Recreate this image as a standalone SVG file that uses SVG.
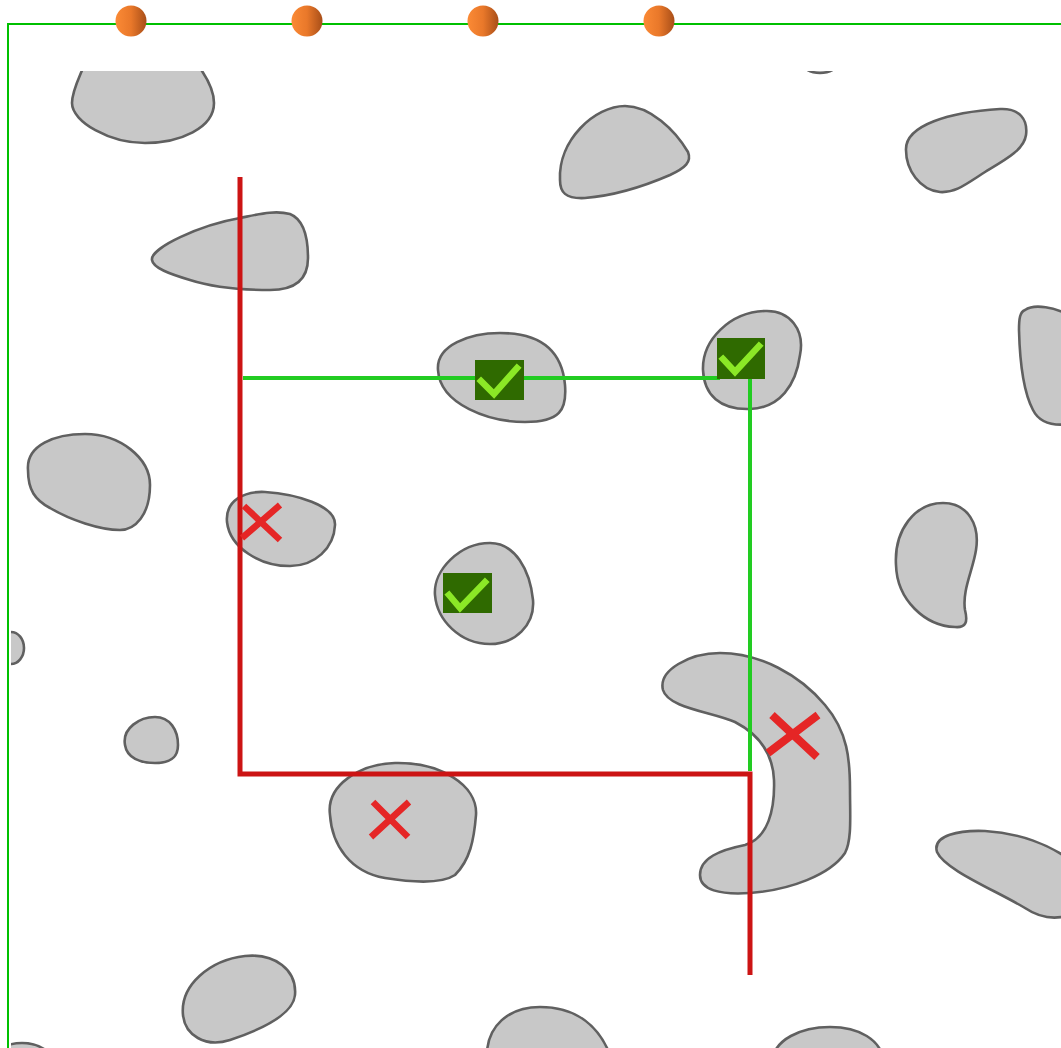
<svg xmlns="http://www.w3.org/2000/svg" width="1061" height="1048" viewBox="0 0 1061 1048">
<style>
.blob{fill:#c8c8c8;stroke:#606060;stroke-width:2.6}
.box{fill:#2f6a00}
.chk{fill:none;stroke:#8be826;stroke-width:6.5;stroke-linecap:square;stroke-linejoin:miter}
.x{stroke:#e52626;stroke-width:6.5;stroke-linecap:butt}
.red{stroke:#cc1414;stroke-width:5;fill:none}
.grn{stroke:#22cc22;stroke-width:4;fill:none}
.ball{fill:url(#ball)}
</style>
<defs>
<linearGradient id="ball" x1="0" y1="0" x2="1" y2="0">
<stop offset="0" stop-color="#fb8a35"/>
<stop offset="0.5" stop-color="#e9782a"/>
<stop offset="1" stop-color="#a84e18"/>
</linearGradient>
<clipPath id="area"><rect x="11" y="71" width="1050" height="977"/></clipPath>
</defs>
<rect width="1061" height="1048" fill="#ffffff"/>
<g id="frame">
<path d="M8,1048 V24 H1061" fill="none" stroke="#00c000" stroke-width="2"/>
</g>
<g id="balls">
<ellipse class="ball" cx="131" cy="21" rx="15.5" ry="15.5"/>
<ellipse class="ball" cx="307" cy="21" rx="15.5" ry="15.5"/>
<ellipse class="ball" cx="483" cy="21" rx="15.5" ry="15.5"/>
<ellipse class="ball" cx="659" cy="21" rx="15.5" ry="15.5"/>
</g>
<g id="blobs" clip-path="url(#area)">
<path id="b1" class="blob" d="M83,68 C78,80 72,92 72,103 C72,122 110,143 145,143 C180,143 214,128 214,103 C214,90 207,78 200,68 Z"/>
<path id="b2" class="blob" d="M152,260 C150,248 200,225 240,218 C260,214 275,210 290,214 C305,220 308,240 308,258 C308,280 295,290 270,290 C240,290 215,288 190,280 C170,274 153,268 152,260 Z"/>
<path id="b3" class="blob" d="M560,180 C558,140 595,106 625,106 C650,106 675,130 688,152 C692,162 685,168 670,175 C640,188 610,196 585,198 C565,199 560,192 560,180 Z"/>
<path id="b4" class="blob" d="M906,150 C905,125 950,112 1000,109 C1020,108 1028,120 1026,135 C1024,150 1005,160 985,172 C965,185 955,193 940,192 C920,190 906,170 906,150 Z"/>
<ellipse id="b5" class="blob" cx="820" cy="50" rx="25" ry="23"/>
<path id="b6" class="blob" d="M438,370 C436,345 470,333 500,333 C540,333 562,350 565,385 C567,410 560,422 525,422 C490,422 440,405 438,370 Z"/>
<path id="b7" class="blob" d="M703,370 C702,340 730,312 765,311 C790,310 805,330 800,355 C796,385 780,408 750,409 C720,410 704,395 703,370 Z"/>
<path id="b8" class="blob" d="M1025,310 C1035,303 1055,308 1070,315 L1070,424 C1055,426 1040,424 1033,410 C1025,395 1020,370 1019,330 C1019,318 1020,312 1025,310 Z"/>
<path id="b9" class="blob" d="M28,470 C26,445 55,434 85,434 C120,434 150,458 150,485 C150,515 135,530 120,530 C100,530 70,520 50,508 C35,500 28,490 28,470 Z"/>
<path id="b10" class="blob" d="M227,522 C225,500 245,491 265,492 C295,494 336,505 335,525 C334,548 315,566 290,566 C260,566 230,548 227,522 Z"/>
<path id="b11" class="blob" d="M435,595 C433,570 460,543 490,543 C515,543 530,570 533,600 C535,625 515,644 490,644 C460,644 437,620 435,595 Z"/>
<ellipse id="b12" class="blob" cx="11" cy="648" rx="13" ry="16"/>
<path id="b13" class="blob" d="M125,745 C122,728 140,717 155,717 C170,717 178,730 178,745 C178,758 170,763 155,763 C140,763 127,758 125,745 Z"/>
<path id="b14" class="blob" d="M330,815 C326,785 360,764 395,763 C440,762 478,785 476,815 C474,840 470,860 455,875 C440,885 410,882 385,878 C350,872 332,845 330,815 Z"/>
<path id="b15" class="blob" d="M663,690 C658,670 690,653 720,653 C760,653 800,675 825,705 C848,732 850,760 850,790 C850,815 852,840 845,853 C830,875 790,890 750,893 C720,895 700,890 700,875 C700,858 720,850 745,845 C768,838 775,810 774,780 C773,755 760,735 735,722 C712,712 668,708 663,690 Z"/>
<path id="b16" class="blob" d="M896,565 C894,530 915,503 943,503 C968,503 980,525 976,550 C973,570 962,590 965,610 C968,622 966,628 955,627 C925,626 897,600 896,565 Z"/>
<path id="b17" class="blob" d="M937,852 C932,835 960,830 985,831 C1020,833 1050,845 1070,860 L1070,915 C1055,920 1040,918 1025,908 C995,890 945,870 937,852 Z"/>
<path id="b18" class="blob" d="M183,1015 C180,985 210,960 245,956 C275,953 297,970 295,995 C293,1015 260,1030 230,1040 C205,1048 185,1035 183,1015 Z"/>
<path id="b19" class="blob" d="M487,1060 C485,1025 510,1007 540,1007 C575,1007 600,1025 612,1060 Z"/>
<path id="b20" class="blob" d="M772,1060 C775,1040 800,1027 830,1027 C860,1027 880,1040 884,1060 Z"/>
<ellipse id="b21" class="blob" cx="22" cy="1062" rx="30" ry="19"/>
</g>
<g id="connectors">
<path class="red" d="M240,177 V774 H750 V975"/>
<path class="grn" d="M243,378 H720"/>
<path class="grn" d="M750,379 V771"/>
</g>
<g id="check1">
<rect class="box" x="475" y="360" width="49" height="40"/>
<polyline class="chk" points="481,381 494,394 517,368"/>
</g>
<g id="check2">
<rect class="box" x="717" y="338" width="48" height="41"/>
<polyline class="chk" points="723,359 735,372 759,346"/>
</g>
<g id="check3">
<rect class="box" x="443" y="573" width="49" height="40"/>
<polyline class="chk" points="449,595 460,608 485,582"/>
</g>
<g id="cross1">
<path class="x" d="M244,506 L280,540 M280,505 L242,538"/>
</g>
<g id="cross2">
<path class="x" d="M373,802 L408,837 M409,802 L371,837"/>
</g>
<g id="cross3">
<path class="x" style="stroke-width:8" d="M772,715 L817,757 M818,715 L768,753"/>
</g>
</svg>
